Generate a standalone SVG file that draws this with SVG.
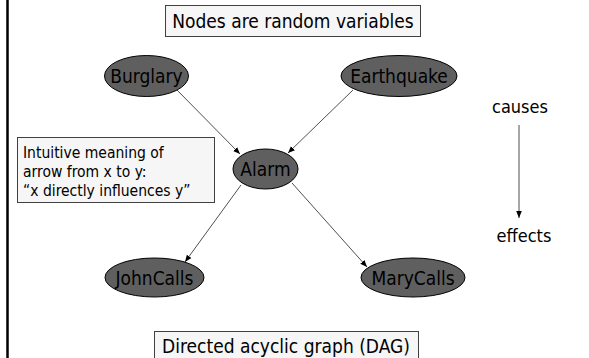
<svg xmlns="http://www.w3.org/2000/svg" width="589" height="358" viewBox="0 0 589 358">
<style>
  text { font-family: "DejaVu Sans Condensed", "DejaVu Sans", "Liberation Sans", sans-serif; font-stretch: condensed; fill: #000; }
  .node ellipse { fill: #5f5f5f; stroke: #000; stroke-width: 1; }
  .node text { font-size: 19px; text-anchor: middle; }
  .box rect { fill: #f6f6f6; stroke: #404040; stroke-width: 1; }
  .edge { stroke: #222; stroke-width: 0.8; fill: none; marker-end: url(#ah); }
</style>
<defs>
  <marker id="ah" viewBox="0 0 10 10" refX="10" refY="5" markerWidth="7" markerHeight="7" markerUnits="userSpaceOnUse" orient="auto">
    <path d="M0,1 L10,5 L0,9 z" fill="#000"/>
  </marker>
</defs>
<rect x="0" y="0" width="589" height="358" fill="#fff"/>
<line x1="7.5" y1="0" x2="7.5" y2="358" stroke="#000" stroke-width="2.5"/>

<g id="title-box" class="box">
  <rect x="165.5" y="5.5" width="255" height="31"/>
  <text x="293" y="28" font-size="19" text-anchor="middle">Nodes are random variables</text>
</g>

<g id="note-box" class="box">
  <rect x="17.5" y="137.5" width="197" height="65"/>
  <text x="23" y="157.5" font-size="15.5">Intuitive meaning of</text>
  <text x="23" y="176.5" font-size="15.5">arrow from x to y:</text>
  <text x="23" y="195.5" font-size="15.5">“x directly influences y”</text>
</g>

<g id="dag-box" class="box">
  <rect x="154.5" y="331.5" width="264" height="30"/>
  <text x="286" y="353" font-size="19" text-anchor="middle">Directed acyclic graph (DAG)</text>
</g>

<g id="connectors">
  <line class="edge" x1="177" y1="90" x2="240" y2="154"/>
  <line class="edge" x1="353" y1="90" x2="288" y2="153"/>
  <line class="edge" x1="241" y1="185" x2="185" y2="262"/>
  <line class="edge" x1="292" y1="183" x2="367" y2="267"/>
  <line class="edge" x1="519" y1="125" x2="519" y2="218"/>
</g>

<g id="burglary" class="node">
  <ellipse cx="146.5" cy="76" rx="42" ry="20.5"/>
  <text x="146.5" y="83">Burglary</text>
</g>
<g id="earthquake" class="node">
  <ellipse cx="399" cy="76" rx="58" ry="20.5"/>
  <text x="399" y="83">Earthquake</text>
</g>
<g id="alarm" class="node">
  <ellipse cx="265.5" cy="169" rx="32.5" ry="20"/>
  <text x="265.5" y="176">Alarm</text>
</g>
<g id="johncalls" class="node">
  <ellipse cx="154.5" cy="277.5" rx="49.5" ry="19.5"/>
  <text x="154.5" y="284.5">JohnCalls</text>
</g>
<g id="marycalls" class="node">
  <ellipse cx="413" cy="277.5" rx="52" ry="19.5"/>
  <text x="413" y="284.5">MaryCalls</text>
</g>

<g id="causes">
  <text x="520" y="113" font-size="18" text-anchor="middle">causes</text>
</g>
<g id="effects">
  <text x="524" y="242" font-size="18" text-anchor="middle">effects</text>
</g>
</svg>
